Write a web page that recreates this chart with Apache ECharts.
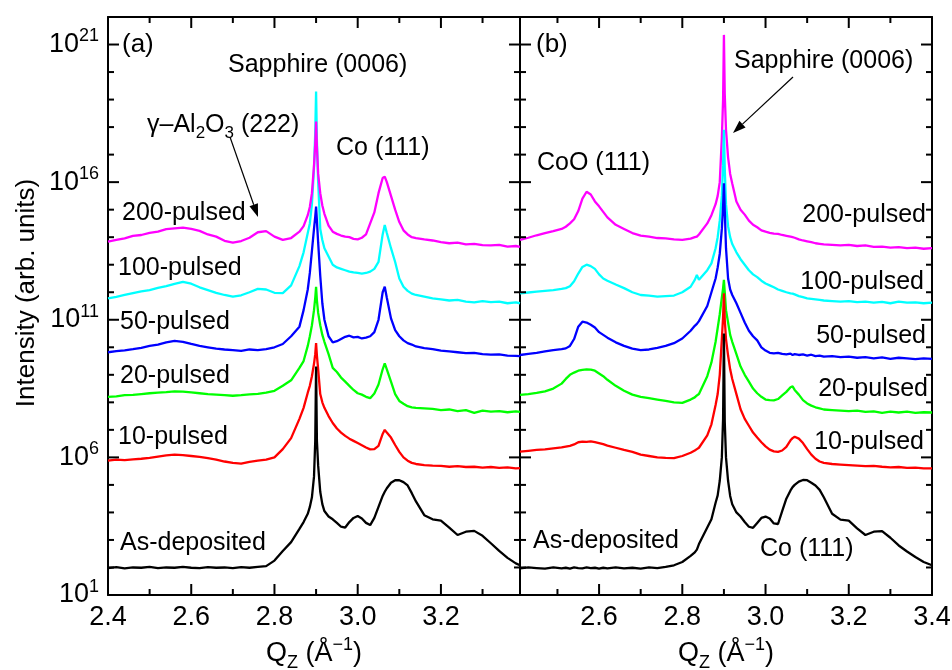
<!DOCTYPE html>
<html>
<head>
<meta charset="utf-8">
<title>Qz scans</title>
<script src="https://cdn.jsdelivr.net/npm/echarts@6/dist/echarts.min.js"></script>
<style>
  html, body { margin: 0; padding: 0; background: #fff; }
  #chart { width: 952px; height: 670px; }
</style>
</head>
<body>
<div id="chart"></div>
<script>
// Qz points (Å^-1), panel (a) and panel (b)
const qA = [
  2.40, 2.42, 2.44, 2.46, 2.48, 2.50, 2.52, 2.54, 2.56, 2.58, 2.60, 2.62, 2.64, 2.66, 2.68, 2.70, 2.72, 2.74, 2.76, 2.78, 2.80, 2.82, 2.84,
  2.86, 2.87, 2.88, 2.885, 2.89, 2.895, 2.898, 2.90, 2.902, 2.905, 2.91, 2.915, 2.92,
  2.93, 2.94, 2.95, 2.96, 2.97, 2.98, 2.99, 3.00, 3.01, 3.02, 3.03, 3.04, 3.05, 3.06,
  3.065, 3.07, 3.08, 3.09, 3.10, 3.11, 3.12, 3.13, 3.14,
  3.16, 3.18, 3.20, 3.22, 3.24, 3.26, 3.28, 3.30, 3.32, 3.34, 3.36, 3.38, 3.39
];
const qB = [
  2.41, 2.43, 2.45, 2.47, 2.49,
  2.51, 2.52, 2.53, 2.54, 2.55, 2.56, 2.57, 2.58, 2.59, 2.60, 2.61, 2.62,
  2.64, 2.66, 2.68, 2.70, 2.72, 2.74, 2.76, 2.78, 2.80, 2.82,
  2.83, 2.835, 2.84,
  2.86, 2.87, 2.88, 2.885, 2.89, 2.895, 2.898, 2.90, 2.902, 2.905, 2.91, 2.915, 2.92,
  2.93, 2.94, 2.95, 2.96, 2.97, 2.98, 2.99, 3.00, 3.01, 3.02, 3.03, 3.04, 3.05, 3.06,
  3.065, 3.07, 3.08, 3.09, 3.10, 3.11, 3.12, 3.13, 3.14,
  3.16, 3.18, 3.20, 3.22, 3.24, 3.26, 3.28, 3.30, 3.32, 3.34, 3.36, 3.38, 3.40
];

// log10(intensity), panel (a)
const a200 = [
  13.84, 13.9, 13.96, 14.05, 14.08, 14.16, 14.2, 14.29, 14.32, 14.35, 14.3, 14.23, 14.1, 14.02, 13.87, 13.8, 13.86, 13.98, 14.18, 14.22, 14.02, 13.9, 13.97,
  14.2, 14.4, 14.8, 15.1, 15.6, 16.6, 17.4, 18.2, 17.3, 16.3, 15.6, 15.15, 14.85,
  14.42, 14.2, 14.12, 14.06, 14.02, 14.0, 13.94, 13.92, 13.98, 14.1, 14.5, 14.9, 15.6, 16.15,
  16.2, 16.0, 15.5, 15.0, 14.55, 14.25, 14.1, 14.0, 13.97,
  13.92, 13.88, 13.82, 13.78, 13.8, 13.74, 13.76, 13.71, 13.7, 13.72, 13.66, 13.68, 13.65
];
const a100 = [
  11.78, 11.83, 11.9, 11.97, 12.03, 12.08, 12.16, 12.22, 12.3, 12.38, 12.31, 12.18, 12.08, 11.98, 11.9, 11.84, 11.89, 12.0, 12.12, 12.1, 11.98, 11.97, 12.25,
  12.95, 13.45, 14.15, 14.5, 15.2, 16.5, 17.8, 19.29, 17.5, 16.0, 14.3, 13.9, 13.6,
  13.3, 13.0, 12.9, 12.85, 12.8, 12.75, 12.72, 12.7, 12.68, 12.7, 12.75, 12.85, 13.1, 14.1,
  14.44, 14.15, 13.6, 13.1, 12.5, 12.2, 12.05, 11.95, 11.9,
  11.84, 11.78, 11.74, 11.7, 11.72, 11.66, 11.63, 11.68, 11.64, 11.66, 11.6, 11.63, 11.6
];
const a50 = [
  9.82, 9.86, 9.89, 9.93, 9.98, 10.05, 10.1, 10.18, 10.23, 10.2, 10.12, 10.05, 10.0, 9.95, 9.92, 9.9, 9.87, 9.92, 9.9, 9.93, 10.0, 10.12, 10.4,
  10.75, 11.35, 12.1, 12.7, 13.5, 14.3, 14.75, 15.11, 14.6, 13.8, 12.6, 11.6, 11.0,
  10.4, 10.18, 10.22, 10.3, 10.38, 10.42, 10.36, 10.38, 10.32, 10.35, 10.4, 10.55, 11.0, 12.0,
  12.2, 11.8, 11.05, 10.62, 10.4, 10.25, 10.15, 10.1, 10.03,
  9.97, 9.93, 9.88, 9.85, 9.82, 9.79, 9.8, 9.75, 9.73, 9.74, 9.7, 9.69, 9.68
];
const a20 = [
  8.2, 8.22, 8.26, 8.27, 8.3, 8.33, 8.35, 8.37, 8.4, 8.39, 8.36, 8.33, 8.3, 8.28, 8.26, 8.24, 8.26, 8.29, 8.31, 8.35, 8.42, 8.6, 8.8,
  9.25, 9.5, 10.05, 10.4, 10.8, 11.35, 11.8, 12.2, 11.7, 11.25, 10.8, 10.45, 10.2,
  9.75, 9.25, 9.1, 8.9, 8.75, 8.6, 8.45, 8.33, 8.28, 8.2, 8.15, 8.32, 8.65, 9.2,
  9.42, 9.2, 8.75, 8.3, 8.05, 7.95, 7.86, 7.82, 7.8,
  7.78, 7.76, 7.72, 7.74, 7.68, 7.72, 7.62, 7.7, 7.66, 7.68, 7.64, 7.67, 7.65
];
const a10 = [
  5.88, 5.92, 5.9, 5.93, 5.95, 5.98, 6.03, 6.07, 6.1, 6.08, 6.05, 6.02, 5.97, 5.92, 5.85, 5.8, 5.77, 5.84, 5.88, 5.92, 6.0, 6.3, 6.7,
  7.4, 7.8, 8.35, 8.6, 8.95, 9.4, 9.75, 10.15, 9.7, 9.2, 8.3, 8.0, 7.8,
  7.5, 7.25, 7.05, 6.9, 6.78, 6.68, 6.6, 6.52, 6.44, 6.36, 6.29, 6.3, 6.42, 6.85,
  7.0, 6.9, 6.72, 6.45, 6.2, 6.0, 5.88, 5.8, 5.76,
  5.72, 5.7, 5.69, 5.66, 5.68, 5.65, 5.66, 5.63, 5.65, 5.62, 5.64, 5.6, 5.61
];
const a0 = [
  1.98, 2.01, 1.97, 2.0, 1.99, 2.02, 1.98, 2.0, 1.99, 2.02, 1.99, 1.98, 2.01, 1.99, 2.0, 1.98, 2.01, 1.99, 2.02, 2.05, 2.25, 2.6, 2.92,
  3.4, 3.65, 3.95, 4.2, 4.55, 5.3, 6.6, 9.3, 6.6, 5.7, 4.75, 4.3, 4.05,
  3.85, 3.75, 3.62, 3.48, 3.45, 3.65, 3.8, 3.87, 3.78, 3.62, 3.54, 3.8, 4.2, 4.6,
  4.75, 4.88, 5.08, 5.17, 5.17, 5.1, 4.98, 4.7, 4.4,
  3.9, 3.75, 3.7, 3.45, 3.18, 3.3, 3.33, 3.15, 2.88, 2.6, 2.35, 2.15, 2.08
];

// log10(intensity), panel (b)
const b200 = [
  13.9, 13.98, 14.07, 14.15, 14.22,
  14.3, 14.38, 14.5, 14.65, 14.95, 15.4, 15.65, 15.55, 15.3, 15.12, 14.92, 14.72,
  14.45, 14.3, 14.15, 14.06, 14.02, 13.97, 13.96, 13.92, 13.9, 13.95,
  14.0, 14.02, 14.1,
  14.5, 14.8, 15.2, 15.5, 16.0, 17.6, 19.0, 21.35, 19.2, 17.9, 16.9, 16.3, 15.95,
  15.3, 15.0, 14.82, 14.6, 14.45, 14.36, 14.25, 14.2, 14.16, 14.13, 14.12, 14.08, 14.05, 14.02,
  14.0, 13.98, 13.92, 13.88, 13.85, 13.82, 13.78, 13.76, 13.74,
  13.72, 13.7, 13.72, 13.68, 13.7, 13.65, 13.66, 13.62, 13.64, 13.6, 13.62, 13.58, 13.6
];
const b100 = [
  11.96, 11.99, 12.02, 12.05, 12.08,
  12.12, 12.15, 12.22, 12.4, 12.68, 12.92, 13.0, 12.95, 12.85, 12.65, 12.5, 12.42,
  12.28, 12.15, 12.0, 11.9, 11.88, 11.84, 11.86, 11.88, 12.0, 12.2,
  12.45, 12.63, 12.45,
  12.8, 13.05, 13.6, 14.0, 14.6, 15.5, 16.6, 17.9, 16.5, 15.2, 14.4, 14.0, 13.75,
  13.45, 13.2, 13.0, 12.8, 12.65, 12.55, 12.42, 12.32, 12.25, 12.18, 12.1, 12.05, 12.0, 11.96,
  11.95, 11.92, 11.86, 11.82, 11.78, 11.76, 11.74, 11.72, 11.7,
  11.68, 11.66, 11.68, 11.64, 11.66, 11.62, 11.65, 11.6, 11.66, 11.62, 11.63, 11.6, 11.62
];
const b50 = [
  9.72, 9.76, 9.8, 9.85, 9.9,
  9.93, 9.96, 10.05, 10.3, 10.75, 10.93, 10.9, 10.82, 10.72, 10.55, 10.45, 10.35,
  10.18, 10.05, 9.95, 9.9, 9.92, 9.98, 10.05, 10.15, 10.32, 10.6,
  10.78, 10.85, 10.95,
  11.5, 12.0, 12.5, 12.9, 13.4, 14.3, 15.1, 15.96, 15.0, 13.6, 12.5, 12.1, 11.9,
  11.6, 11.25, 10.9, 10.6, 10.4, 10.25, 10.0, 9.88, 9.8, 9.78, 9.8, 9.76, 9.74, 9.77,
  9.72, 9.75, 9.72, 9.74, 9.7, 9.73, 9.68, 9.7, 9.66,
  9.68, 9.64, 9.66, 9.62, 9.64, 9.6, 9.63, 9.58, 9.62, 9.6, 9.57, 9.6, 9.58
];
const b20 = [
  8.27, 8.3, 8.34, 8.4, 8.5,
  8.68, 8.85, 9.0, 9.08, 9.15, 9.18, 9.2, 9.19, 9.15, 9.05, 8.95, 8.82,
  8.6, 8.42, 8.28, 8.2, 8.15, 8.1, 8.05, 8.0, 7.98, 8.1,
  8.18, 8.25, 8.3,
  8.95, 9.45, 10.2, 10.7, 11.2, 11.8, 12.15, 12.45, 12.0, 11.35, 10.9, 10.45, 10.2,
  9.75, 9.3, 9.0, 8.75, 8.5, 8.33, 8.2, 8.1, 8.08, 8.07, 8.12, 8.25, 8.38, 8.55,
  8.58, 8.45, 8.28, 8.08, 7.96, 7.88, 7.82, 7.78, 7.74,
  7.72, 7.7, 7.68, 7.7, 7.65, 7.67, 7.62, 7.66, 7.63, 7.66, 7.62, 7.64, 7.63
];
const b10 = [
  6.21, 6.24, 6.27, 6.29, 6.33,
  6.36, 6.39, 6.42, 6.47, 6.55, 6.57, 6.56, 6.58, 6.55, 6.52, 6.48, 6.43,
  6.35, 6.27, 6.2, 6.1, 6.05, 6.0, 5.98, 5.97, 6.05, 6.17,
  6.25, 6.3, 6.35,
  6.8, 7.2, 7.9, 8.3, 9.0, 10.3, 11.1, 11.96, 11.0, 10.3, 9.7, 9.2, 8.85,
  8.3, 7.75, 7.4, 7.15, 6.9, 6.72, 6.55, 6.4, 6.28, 6.22, 6.2, 6.25, 6.38, 6.62,
  6.7, 6.75, 6.68, 6.52, 6.3, 6.1, 5.95, 5.85, 5.8,
  5.76, 5.74, 5.72, 5.7, 5.68, 5.69, 5.66, 5.64, 5.65, 5.62, 5.63, 5.6, 5.6
];
const b0 = [
  1.97, 2.0, 1.98, 1.96, 2.0,
  1.97, 1.99, 1.96, 2.0, 1.98, 1.97, 2.0, 1.98, 1.99, 1.96, 1.99, 1.97,
  2.0, 1.97, 1.99, 1.96, 2.0, 1.98, 2.02, 2.08, 2.2, 2.42,
  2.55, 2.65, 2.85,
  3.45, 3.75, 4.35, 4.62, 5.15, 6.0, 7.4, 10.5, 7.3, 6.0, 5.15, 4.6, 4.3,
  4.0, 3.85, 3.65, 3.48, 3.44, 3.62, 3.8, 3.85, 3.78, 3.6, 3.58, 4.05, 4.5, 4.8,
  4.92, 5.0, 5.12, 5.18, 5.17, 5.08, 4.98, 4.82, 4.55,
  3.95, 3.74, 3.7, 3.42, 3.18, 3.3, 3.32, 3.08, 2.8, 2.58, 2.38, 2.2, 2.08
];

// tick positions and labels
const xLabelsA = [2.4, 2.6, 2.8, 3.0, 3.2];
const xMinorA = [2.5, 2.7, 2.9, 3.1, 3.3];
const xLabelsB = [2.6, 2.8, 3.0, 3.2, 3.4];
const xMinorB = [2.5, 2.7, 2.9, 3.1, 3.3];
const yLabelExp = [1, 6, 11, 16, 21];
const yMinorExp = [2, 3, 4, 5, 7, 8, 9, 10, 12, 13, 14, 15, 17, 18, 19, 20];

const FONT = '"Liberation Sans", Arial, sans-serif';
const MAJOR = 11, MINOR = 6;
const chart = echarts.init(document.getElementById('chart'));

const pts = (q, e) => q.map((x, i) => [x, Math.pow(10, e[i])]);

function xAxes(g, min, max, labels) {
    return [
        {
            type: 'value', gridIndex: g, position: 'bottom', min: min, max: max,
            axisLine: { show: true, onZero: false, lineStyle: { color: '#000', width: 2 } },
            axisTick: { show: false },
            axisLabel: {
                show: true, customValues: labels, margin: 9,
                formatter: v => v.toFixed(1),
                fontFamily: FONT, fontSize: 27, color: '#000'
            },
            splitLine: { show: false }
        },
        {
            type: 'value', gridIndex: g, position: 'top', min: min, max: max,
            axisLine: { show: true, onZero: false, lineStyle: { color: '#000', width: 2 } },
            axisTick: { show: false }, axisLabel: { show: false }, splitLine: { show: false }
        }
    ];
}

// hidden log axis carries the data; value axes (in decades) give frame + labels
function yAxes(g, labels) {
    const side = (pos, withLabel) => ({
        type: 'value', gridIndex: g, position: pos, min: 1, max: 22, offset: 0,
        axisLine: { show: true, onZero: false, lineStyle: { color: '#000', width: 2 } },
        axisTick: { show: false },
        axisLabel: withLabel ? {
            show: true, customValues: yLabelExp, margin: 9,
            formatter: v => '{b|10}{s|' + v + '}',
            rich: {
                b: { fontFamily: FONT, fontSize: 27, color: '#000', lineHeight: 34 },
                s: { fontFamily: FONT, fontSize: 18, color: '#000', verticalAlign: 'top' }
            }
        } : { show: false },
        splitLine: { show: false }
    });
    return [
        { type: 'log', gridIndex: g, min: 10, max: 1e22, logBase: 10, show: false },
        side('left', labels), side('right', false)
    ];
}

function line(name, g, q, e, color) {
    return {
        name: name, type: 'line', xAxisIndex: g * 2, yAxisIndex: g * 3,
        data: pts(q, e), showSymbol: false, symbol: 'none', silent: true,
        lineStyle: { color: color, width: 2.3 }, itemStyle: { color: color }
    };
}

// inward ticks on all four sides, placed through the axes' own scales
function xTicks(g, yRef, major, minor) {
    return {
        type: 'custom', xAxisIndex: g * 2, yAxisIndex: g * 3, silent: true, z: 5,
        data: major.map(q => [q, yRef, MAJOR]).concat(minor.map(q => [q, yRef, MINOR])),
        renderItem: (params, api) => {
            const cs = params.coordSys;
            const px = api.coord([api.value(0), api.value(1)])[0];
            const len = api.value(2), bot = cs.y + cs.height, st = { stroke: '#000', lineWidth: 2 };
            return {
                type: 'group', children: [
                    { type: 'line', shape: { x1: px, y1: bot, x2: px, y2: bot - len }, style: st },
                    { type: 'line', shape: { x1: px, y1: cs.y, x2: px, y2: cs.y + len }, style: st }
                ]
            };
        }
    };
}
function yTicks(g, xRef) {
    return {
        type: 'custom', xAxisIndex: g * 2, yAxisIndex: g * 3, silent: true, z: 5,
        data: yLabelExp.map(e => [xRef, Math.pow(10, e), MAJOR]).concat(yMinorExp.map(e => [xRef, Math.pow(10, e), MINOR])),
        renderItem: (params, api) => {
            const cs = params.coordSys;
            const py = api.coord([api.value(0), api.value(1)])[1];
            const len = api.value(2), r = cs.x + cs.width, st = { stroke: '#000', lineWidth: 2 };
            return {
                type: 'group', children: [
                    { type: 'line', shape: { x1: cs.x, y1: py, x2: cs.x + len, y2: py }, style: st },
                    { type: 'line', shape: { x1: r, y1: py, x2: r - len, y2: py }, style: st }
                ]
            };
        }
    };
}

const txt = (t, x, y, align, size) => ({
    type: 'text', x: x, y: y, silent: true,
    style: { text: t, font: (size || 25) + 'px ' + FONT, fill: '#000', align: align || 'left', verticalAlign: 'middle' }
});
const richTxt = (t, x, y, align, rich) => ({
    type: 'text', x: x, y: y, silent: true,
    style: { text: t, fill: '#000', align: align, verticalAlign: 'middle', rich: rich }
});
const arrow = (x1, y1, x2, y2) => {
    const dx = x2 - x1, dy = y2 - y1, len = Math.sqrt(dx * dx + dy * dy);
    const ux = dx / len, uy = dy / len, bx = x2 - 13 * ux, by = y2 - 13 * uy;
    return [
        { type: 'line', silent: true, shape: { x1: x1, y1: y1, x2: bx, y2: by }, style: { stroke: '#000', lineWidth: 1.2 } },
        { type: 'polygon', silent: true, shape: { points: [[x2, y2], [bx - 4.5 * uy, by + 4.5 * ux], [bx + 4.5 * uy, by - 4.5 * ux]] }, style: { fill: '#000' } }
    ];
};

const subRich = {
    a: { fontFamily: FONT, fontSize: 25, color: '#000', lineHeight: 34 },
    d: { fontFamily: FONT, fontSize: 17, color: '#000', verticalAlign: 'bottom' }
};
const qRich = {
    a: { fontFamily: FONT, fontSize: 27, color: '#000', lineHeight: 36 },
    d: { fontFamily: FONT, fontSize: 18, color: '#000', verticalAlign: 'bottom' },
    u: { fontFamily: FONT, fontSize: 18, color: '#000', verticalAlign: 'top' }
};

const option = {
    animation: false,
    backgroundColor: '#fff',
    grid: [
        { left: 108, top: 17, width: 412, height: 578, outerBoundsMode: 'none', containLabel: false },
        { left: 520, top: 17, width: 412, height: 578, outerBoundsMode: 'none', containLabel: false }
    ],
    xAxis: [].concat(xAxes(0, 2.4, 3.39, xLabelsA), xAxes(1, 2.41, 3.4, xLabelsB)),
    yAxis: [].concat(yAxes(0, true), yAxes(1, false)),
    series: [
        line('100-pulsed', 0, qA, a100, '#00ffff'),
        line('200-pulsed', 0, qA, a200, '#ff00ff'),
        line('50-pulsed', 0, qA, a50, '#0000ff'),
        line('20-pulsed', 0, qA, a20, '#00ff00'),
        line('10-pulsed', 0, qA, a10, '#ff0000'),
        line('As-deposited', 0, qA, a0, '#000000'),
        line('200-pulsed', 1, qB, b200, '#ff00ff'),
        line('100-pulsed', 1, qB, b100, '#00ffff'),
        line('50-pulsed', 1, qB, b50, '#0000ff'),
        line('20-pulsed', 1, qB, b20, '#00ff00'),
        line('10-pulsed', 1, qB, b10, '#ff0000'),
        line('As-deposited', 1, qB, b0, '#000000'),
        xTicks(0, 1e10, xLabelsA, xMinorA),
        xTicks(1, 1e10, xLabelsB, xMinorB),
        yTicks(0, 2.9),
        yTicks(1, 2.9)
    ],
    graphic: [
        txt('(a)', 122, 45, 'left', 26),
        txt('(b)', 536, 45, 'left', 26),
        txt('Sapphire (0006)', 228, 65),
        richTxt('{a|γ–Al}{d|2}{a|O}{d|3}{a| (222)}', 147, 125, 'left', subRich),
        txt('Co (111)', 336, 148),
        txt('200-pulsed', 122, 213),
        txt('100-pulsed', 118, 268),
        txt('50-pulsed', 120, 322),
        txt('20-pulsed', 120, 376),
        txt('10-pulsed', 118, 437),
        txt('As-deposited', 120, 543),
        txt('CoO (111)', 537, 163),
        txt('Sapphire (0006)', 734, 61),
        txt('200-pulsed', 926, 215, 'right'),
        txt('100-pulsed', 924, 282, 'right'),
        txt('50-pulsed', 926, 336, 'right'),
        txt('20-pulsed', 928, 389, 'right'),
        txt('10-pulsed', 924, 442, 'right'),
        txt('As-deposited', 533, 541),
        txt('Co (111)', 760, 549),
        richTxt('{a|Q}{d|Z}{a| (Å}{u|−1}{a|)}', 314, 654, 'center', qRich),
        richTxt('{a|Q}{d|Z}{a| (Å}{u|−1}{a|)}', 726, 654, 'center', qRich),
        {
            type: 'text', x: 27, y: 293, rotation: Math.PI / 2, silent: true,
            style: { text: 'Intensity (arb. units)', font: '26px ' + FONT, fill: '#000', align: 'center', verticalAlign: 'middle' }
        }
    ].concat(arrow(230, 137, 258, 217), arrow(793, 77, 733, 133))
};

chart.setOption(option);
</script>
</body>
</html>
